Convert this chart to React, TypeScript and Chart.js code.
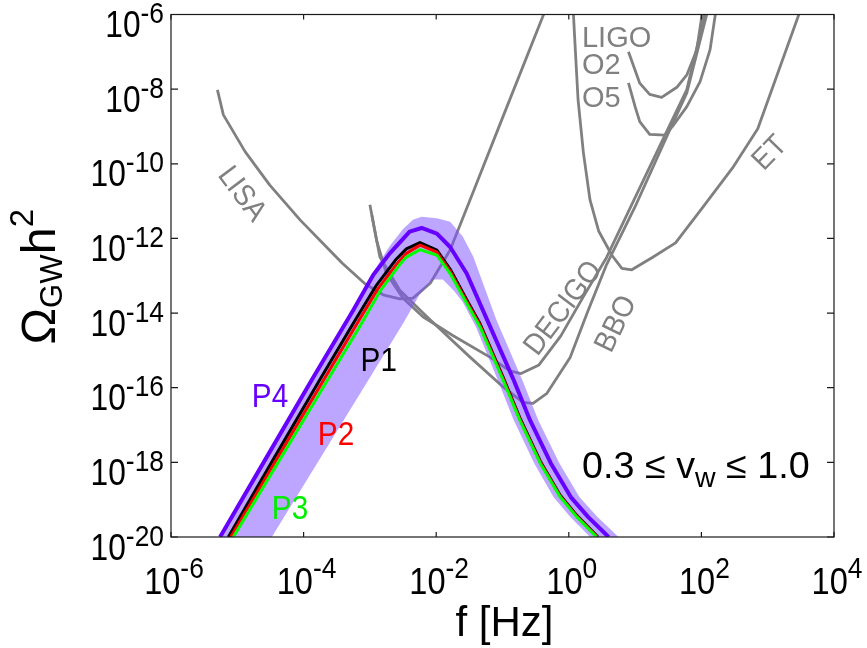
import React, { useEffect, useRef } from "react";
import { Chart, registerables } from "chart.js";

Chart.register(...registerables);

const FONT = '"Liberation Sans", Arial, Helvetica, sans-serif';

// ---- values are log10(f / Hz) and log10(Omega_GW h^2) ----
const P1_LOGF = [-5.135, -4.45, -3.76, -3.25, -2.9, -2.6, -2.45, -2.245, -1.99, -1.79, -1.54, -1.34, -0.99, -0.74, -0.43, -0.13, 0.12, 0.44];
const P1_LOGOMEGA = [-20, -17.9, -15.8, -14.27, -13.25, -12.55, -12.28, -12.11, -12.31, -12.82, -13.64, -14.28, -15.72, -16.8, -17.97, -18.88, -19.42, -20];

const P2_LOGF = [-5.1, -4.4, -3.7, -3.2, -2.88, -2.58, -2.45, -2.245, -1.99, -1.79, -1.54, -1.34, -0.99, -0.74, -0.43, -0.13, 0.12, 0.43];
const P2_LOGOMEGA = [-20, -17.9, -15.8, -14.3, -13.35, -12.65, -12.4, -12.18, -12.37, -12.88, -13.69, -14.32, -15.76, -16.84, -18.0, -18.91, -19.44, -20];

const P3_LOGF = [-5.06, -4.35, -3.64, -3.15, -2.85, -2.55, -2.45, -2.245, -1.99, -1.79, -1.54, -1.34, -0.99, -0.74, -0.43, -0.13, 0.12, 0.42];
const P3_LOGOMEGA = [-20, -17.9, -15.8, -14.35, -13.42, -12.7, -12.5, -12.3, -12.45, -12.94, -13.74, -14.37, -15.8, -16.87, -18.03, -18.93, -19.46, -20];

const P4_LOGF = [-5.26, -4.57, -3.88, -3.25, -2.95, -2.7, -2.4, -2.22, -1.99, -1.79, -1.54, -1.23, -0.83, -0.585, -0.27, 0.03, 0.29, 0.6];
const P4_LOGOMEGA = [-20, -17.9, -15.8, -13.92, -12.98, -12.4, -11.82, -11.72, -11.87, -12.23, -12.94, -14.19, -15.8, -16.87, -18.03, -18.93, -19.46, -20];

// shaded range 0.3 <= v_w <= 1.0
const BAND_UPPER_LOGF = [-5.26, -3.88, -3.25, -2.95, -2.7, -2.5, -2.35, -2.22, -1.99, -1.79, -1.6, -1.44, -1.09, -0.7, -0.46, -0.14, 0.16, 0.43, 0.75];
const BAND_UPPER_LOGOMEGA = [-20, -15.8, -13.9, -12.9, -12.2, -11.75, -11.5, -11.42, -11.46, -11.55, -11.95, -12.49, -14.19, -15.8, -16.87, -18.03, -18.93, -19.46, -20];
const BAND_LOWER_LOGF = [-4.48, -3.15, -2.5, -2.25, -2.05, -1.9, -1.73, -1.6, -1.4, -1.07, -0.83, -0.52, -0.23, 0.02, 0.32];
const BAND_LOWER_LOGOMEGA = [-20, -16.16, -14.28, -13.5, -13.1, -13.1, -13.41, -13.7, -14.37, -15.8, -16.87, -18.03, -18.93, -19.46, -20];

// detector sensitivity curves
const LISA_LOGF = [-5.3, -5.21, -4.88, -4.51, -4.05, -3.6, -3.42, -3.07, -2.8, -2.55, -2.35, -2.09, -1.79, -1.49, -1.0, -0.38];
const LISA_LOGOMEGA = [-8.02, -8.69, -9.68, -10.57, -11.51, -12.33, -12.66, -13.22, -13.51, -13.62, -13.6, -13.2, -12.31, -10.97, -8.77, -6.0];

const DECIGO_LOGF = [-3.0, -2.9, -2.75, -2.5, -2.2, -1.75, -1.19, -0.89, -0.72, -0.45, -0.12, 0.22, 0.57, 0.98, 1.47, 1.78, 2.05];
const DECIGO_LOGOMEGA = [-11.1, -12.05, -12.94, -13.6, -14.1, -14.6, -15.18, -15.55, -15.62, -15.39, -14.61, -13.56, -12.51, -10.98, -9.16, -8.01, -6.0];

const BBO_LOGF = [-2.97, -2.85, -2.55, -2.14, -1.49, -0.99, -0.69, -0.54, -0.33, 0.02, 0.29, 0.57, 1.0, 1.47, 1.78, 2.08];
const BBO_LOGOMEGA = [-11.38, -12.49, -13.39, -14.1, -15.18, -15.98, -16.39, -16.42, -16.15, -15.19, -13.94, -12.7, -11.15, -9.3, -8.1, -6.0];

const ET_LOGF = [0.07, 0.1, 0.14, 0.22, 0.32, 0.45, 0.65, 0.8, 0.95, 1.26, 1.61, 2.02, 2.47, 2.85, 3.47];
const ET_LOGOMEGA = [-6.0, -7.0, -8.29, -9.7, -10.97, -11.8, -12.45, -12.8, -12.84, -12.51, -12.12, -11.17, -10.11, -9.06, -6.0];

const LIGO_O2_LOGF = [0.9, 1.07, 1.22, 1.4, 1.63, 1.78, 1.93, 2.01];
const LIGO_O2_LOGOMEGA = [-7.0, -7.84, -8.14, -8.22, -7.95, -7.62, -6.95, -6.0];

const LIGO_O5_LOGF = [0.9, 1.0, 1.07, 1.22, 1.45, 1.58, 1.78, 1.98, 2.13, 2.21];
const LIGO_O5_LOGOMEGA = [-7.83, -8.47, -8.87, -9.21, -9.23, -8.96, -8.47, -7.8, -6.95, -6.0];

const X_TICK_EXP = [-6, -4, -2, 0, 2, 4];
const Y_TICK_EXP = [-6, -8, -10, -12, -14, -16, -18, -20];

// text labels (anchors in data coordinates)
const DETECTOR_LABELS = [
  { text: "LISA", lf: -4.91, lo: -10.78, rot: 53 },
  { text: "DECIGO", lf: -0.106, lo: -13.84, rot: -53 },
  { text: "BBO", lf: 0.688, lo: -14.27, rot: -64 },
  { text: "ET", lf: 3.013, lo: -9.68, rot: -46 },
];
const LIGO_LABELS = [
  { text: "LIGO", lf: 0.199, lo: -6.863 },
  { text: "O2", lf: 0.199, lo: -7.595 },
  { text: "O5", lf: 0.199, lo: -8.48 },
];
const P_LABELS = [
  { text: "P1", lf: -2.866, lo: -15.236, color: "#000000" },
  { text: "P4", lf: -4.507, lo: -16.2, color: "#6600ff" },
  { text: "P2", lf: -3.511, lo: -17.206, color: "#ff0000" },
  { text: "P3", lf: -4.205, lo: -19.196, color: "#00ee00" },
];

const GRAY = "#808080";

function toPoints(lf: number[], lo: number[]) {
  return lf.map((v, i) => ({ x: Math.pow(10, v), y: Math.pow(10, lo[i]) }));
}

type Part = { t: string; size: number; dy?: number };

function measureParts(ctx: CanvasRenderingContext2D, parts: Part[], sx: number) {
  return parts.map((p) => {
    ctx.font = `${p.size}px ${FONT}`;
    return ctx.measureText(p.t).width * sx;
  });
}

function drawParts(
  ctx: CanvasRenderingContext2D,
  parts: Part[],
  x: number,
  y: number,
  align: "left" | "center" | "right",
  color: string,
  sx = 1
) {
  const ws = measureParts(ctx, parts, sx);
  const total = ws.reduce((a, b) => a + b, 0);
  let cx = align === "left" ? x : align === "center" ? x - total / 2 : x - total;
  ctx.fillStyle = color;
  ctx.textAlign = "left";
  ctx.textBaseline = "alphabetic";
  parts.forEach((p, i) => {
    ctx.save();
    ctx.font = `${p.size}px ${FONT}`;
    ctx.translate(cx, y + (p.dy || 0));
    ctx.scale(sx, 1);
    ctx.fillText(p.t, 0, 0);
    ctx.restore();
    cx += ws[i];
  });
}

const decorPlugin = {
  id: "decor",
  afterDatasetsDraw(chart: any) {
    const ctx: CanvasRenderingContext2D = chart.ctx;
    const xs = chart.scales.x;
    const ys = chart.scales.y;
    const a = chart.chartArea;
    const px = (lf: number) => xs.getPixelForValue(Math.pow(10, lf));
    const py = (lo: number) => ys.getPixelForValue(Math.pow(10, lo));

    ctx.save();
    // frame
    ctx.strokeStyle = "#1a1a1a";
    ctx.lineWidth = 1.2;
    ctx.strokeRect(a.left, a.top, a.right - a.left, a.bottom - a.top);
    ctx.beginPath();
    X_TICK_EXP.forEach((e) => {
      const x = px(e);
      ctx.moveTo(x, a.bottom);
      ctx.lineTo(x, a.bottom - 5);
      ctx.moveTo(x, a.top);
      ctx.lineTo(x, a.top + 5);
    });
    Y_TICK_EXP.forEach((e) => {
      const y = py(e);
      ctx.moveTo(a.left, y);
      ctx.lineTo(a.left + 7, y);
      ctx.moveTo(a.right, y);
      ctx.lineTo(a.right - 7, y);
    });
    ctx.stroke();

    // tick labels
    X_TICK_EXP.forEach((e) => {
      drawParts(ctx, [{ t: "10", size: 37 }, { t: String(e), size: 30, dy: -16 }], px(e) + 3, 594, "center", "#000", 0.88);
    });
    Y_TICK_EXP.forEach((e) => {
      drawParts(ctx, [{ t: "10", size: 36 }, { t: String(e), size: 30, dy: -14 }], 164, py(e) + 22.5, "right", "#000", 0.88);
    });

    // axis titles
    drawParts(ctx, [{ t: "f [Hz]", size: 42 }], (a.left + a.right) / 2 + 2, 636, "center", "#000", 1);
    ctx.save();
    ctx.translate(55, (a.top + a.bottom) / 2 + 1);
    ctx.rotate(-Math.PI / 2);
    drawParts(
      ctx,
      [
        { t: "\u03A9", size: 49 },
        { t: "GW", size: 31, dy: 7 },
        { t: "h", size: 49 },
        { t: "2", size: 33, dy: -22 },
      ],
      0,
      0,
      "center",
      "#000",
      1
    );
    ctx.restore();

    // detector labels
    DETECTOR_LABELS.forEach((l) => {
      ctx.save();
      ctx.translate(px(l.lf), py(l.lo));
      ctx.rotate((l.rot * Math.PI) / 180);
      drawParts(ctx, [{ t: l.text, size: 30 }], 0, 10.5, "center", GRAY, 0.92);
      ctx.restore();
    });
    LIGO_LABELS.forEach((l) => {
      drawParts(ctx, [{ t: l.text, size: 29 }], px(l.lf), py(l.lo), "left", GRAY, 1);
    });
    P_LABELS.forEach((l) => {
      drawParts(ctx, [{ t: l.text, size: 33 }], px(l.lf), py(l.lo) + 12, "center", l.color, 0.9);
    });

    // velocity range
    drawParts(
      ctx,
      [
        { t: "0.3 \u2264 v", size: 37 },
        { t: "w", size: 28, dy: 9 },
        { t: " \u2264 1.0", size: 37 },
      ],
      px(0.199),
      478,
      "left",
      "#000",
      1.02
    );
    ctx.restore();
  },
};

function lineDs(points: any[], color: string, width: number) {
  return {
    data: points,
    showLine: true,
    borderColor: color,
    borderWidth: width,
    pointRadius: 0,
    pointHoverRadius: 0,
    fill: false,
    tension: 0,
    clip: 0,
    borderJoinStyle: "round" as const,
  };
}

export default function App() {
  const ref = useRef<HTMLCanvasElement>(null);

  useEffect(() => {
    if (!ref.current) return;
    const bandPoly = [
      ...toPoints(BAND_UPPER_LOGF, BAND_UPPER_LOGOMEGA),
      ...toPoints(BAND_LOWER_LOGF, BAND_LOWER_LOGOMEGA).reverse(),
    ];
    const datasets: any[] = [
      lineDs(toPoints(P3_LOGF, P3_LOGOMEGA), "#00ff00", 3),
      lineDs(toPoints(P2_LOGF, P2_LOGOMEGA), "#ff0000", 3),
      lineDs(toPoints(P1_LOGF, P1_LOGOMEGA), "#000000", 3),
      lineDs(toPoints(P4_LOGF, P4_LOGOMEGA), "#6600ff", 4),
      {
        data: bandPoly,
        showLine: true,
        borderWidth: 0,
        borderColor: "rgba(0,0,0,0)",
        backgroundColor: "rgba(124,77,255,0.5)",
        fill: "shape",
        pointRadius: 0,
        tension: 0,
        clip: 0,
      },
      lineDs(toPoints(LISA_LOGF, LISA_LOGOMEGA), GRAY, 2.8),
      lineDs(toPoints(DECIGO_LOGF, DECIGO_LOGOMEGA), GRAY, 2.8),
      lineDs(toPoints(BBO_LOGF, BBO_LOGOMEGA), GRAY, 2.8),
      lineDs(toPoints(ET_LOGF, ET_LOGOMEGA), GRAY, 2.8),
      lineDs(toPoints(LIGO_O2_LOGF, LIGO_O2_LOGOMEGA), GRAY, 2.8),
      lineDs(toPoints(LIGO_O5_LOGF, LIGO_O5_LOGOMEGA), GRAY, 2.8),
    ];
    const chart = new Chart(ref.current, {
      type: "scatter",
      data: { datasets },
      options: {
        animation: false,
        responsive: false,
        events: [],
        layout: { padding: { left: 0, right: 33, top: 14.5, bottom: 0 } },
        plugins: { legend: { display: false }, tooltip: { enabled: false } },
        scales: {
          x: {
            type: "logarithmic",
            min: 1e-6,
            max: 1e4,
            ticks: { display: false },
            grid: { display: false },
            border: { display: false },
            afterFit: (s: any) => {
              s.height = 111;
            },
          },
          y: {
            type: "logarithmic",
            min: 1e-20,
            max: 1e-6,
            ticks: { display: false },
            grid: { display: false },
            border: { display: false },
            afterFit: (s: any) => {
              s.width = 171;
            },
          },
        },
      } as any,
      plugins: [decorPlugin],
    });
    return () => chart.destroy();
  }, []);

  return (
    <div style={{ position: "absolute", left: 0, top: 0, width: 867, height: 648, background: "#fff" }}>
      <canvas ref={ref} width={867} height={648} style={{ display: "block", width: 867, height: 648 }} />
    </div>
  );
}
